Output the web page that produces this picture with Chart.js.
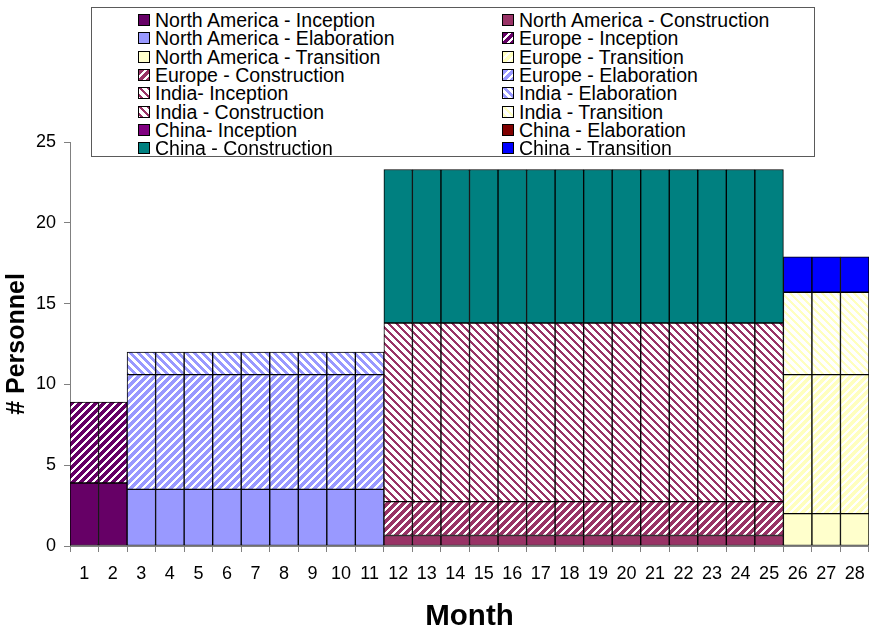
<!DOCTYPE html>
<html>
<head>
<meta charset="utf-8">
<script src="https://cdn.jsdelivr.net/npm/chart.js@4.4.1/dist/chart.umd.min.js"></script>
<style>
  html, body { margin: 0; padding: 0; background: #fff; }
  #wrap { position: relative; width: 869px; height: 632px; overflow: hidden; }
  #chart { position: absolute; left: 0; top: 0; }
  #legend {
    position: absolute; left: 91px; top: 7px; width: 724px; height: 150px;
    box-sizing: border-box; border: 1px solid #5a5a5a; background: #fff;
    font-family: "Liberation Sans", Arial, Helvetica, sans-serif; font-size: 19.5px; color: #000;
  }
  .item { position: absolute; height: 18px; line-height: 18px; white-space: nowrap; display: flex; align-items: center; }
  .sw { width: 10px; height: 10px; border: 1px solid #000; margin-right: 5px; display: block; }
</style>
</head>
<body>
<div id="wrap">
  <canvas id="chart" width="869" height="632"></canvas>
  <div id="legend"></div>
</div>
<script>
// Months on the x axis
const monthLabels = ['1','2','3','4','5','6','7','8','9','10','11','12','13','14',
  '15','16','17','18','19','20','21','22','23','24','25','26','27','28'];

// Project phase running in each month
const monthPhase = [
  'Inception','Inception',
  'Elaboration','Elaboration','Elaboration','Elaboration','Elaboration','Elaboration','Elaboration','Elaboration','Elaboration',
  'Construction','Construction','Construction','Construction','Construction','Construction','Construction',
  'Construction','Construction','Construction','Construction','Construction','Construction','Construction',
  'Transition','Transition','Transition'
];

// Staff per month at each site, by phase: Inception, Elaboration, Construction, Transition
const phases       = ['Inception', 'Elaboration', 'Construction', 'Transition'];
const northAmerica = [3.9, 3.5, 0.65, 2.0];
const europe       = [5.0, 7.1, 2.1, 8.6];
const india        = [null, 1.4, 11.05, 5.1];
const china        = [null, null, 9.5, 2.2];

const sites = { 'North America': northAmerica, 'Europe': europe, 'India': india, 'China': china };

// Series in stacking / legend order
const seriesList = [
  { label: 'North America - Inception',    site: 'North America', phase: 'Inception' },
  { label: 'North America - Construction', site: 'North America', phase: 'Construction' },
  { label: 'North America - Elaboration',  site: 'North America', phase: 'Elaboration' },
  { label: 'Europe - Inception',           site: 'Europe',        phase: 'Inception' },
  { label: 'North America - Transition',   site: 'North America', phase: 'Transition' },
  { label: 'Europe - Transition',          site: 'Europe',        phase: 'Transition' },
  { label: 'Europe - Construction',        site: 'Europe',        phase: 'Construction' },
  { label: 'Europe - Elaboration',         site: 'Europe',        phase: 'Elaboration' },
  { label: 'India- Inception',             site: 'India',         phase: 'Inception' },
  { label: 'India - Elaboration',          site: 'India',         phase: 'Elaboration' },
  { label: 'India - Construction',         site: 'India',         phase: 'Construction' },
  { label: 'India - Transition',           site: 'India',         phase: 'Transition' },
  { label: 'China- Inception',             site: 'China',         phase: 'Inception' },
  { label: 'China - Elaboration',          site: 'China',         phase: 'Elaboration' },
  { label: 'China - Construction',         site: 'China',         phase: 'Construction' },
  { label: 'China - Transition',           site: 'China',         phase: 'Transition' }
];

// Fill style per series: solid colour, or diagonal hatching ('up' = /, 'down' = \)
const fills = [
  { color: '#660066' },
  { color: '#993366' },
  { color: '#9999ff' },
  { color: '#660066', dir: 'up', band: 5 },
  { color: '#ffffcc' },
  { color: '#ffffbf', dir: 'up', band: 5 },
  { color: '#993366', dir: 'up', band: 5 },
  { color: '#9999ff', dir: 'up', band: 5 },
  { color: '#993366', dir: 'down', band: 3 },
  { color: '#9999ff', dir: 'down', band: 4 },
  { color: '#993366', dir: 'down', band: 3 },
  { color: '#ffffbf', dir: 'down', band: 3 },
  { color: '#800080' },
  { color: '#800000' },
  { color: '#008080' },
  { color: '#0000ff' }
];

function makeFill(ctx, f) {
  if (!f.dir) return f.color;
  const tile = document.createElement('canvas');
  tile.width = 8; tile.height = 8;
  const g = tile.getContext('2d');
  g.fillStyle = '#ffffff';
  g.fillRect(0, 0, 8, 8);
  g.fillStyle = f.color;
  for (let y = 0; y < 8; y++) {
    for (let x = 0; x < 8; x++) {
      const k = f.dir === 'up' ? (x + y) % 8 : (x - y + 8) % 8;
      if (k < f.band) g.fillRect(x, y, 1, 1);
    }
  }
  return ctx.createPattern(tile, 'repeat');
}

const canvas = document.getElementById('chart');
const ctx = canvas.getContext('2d');

const datasets = seriesList.map((s, i) => {
  const idx = phases.indexOf(s.phase);
  const v = sites[s.site][idx];
  return {
    label: s.label,
    data: monthPhase.map(p => (p === s.phase ? v : null)),
    backgroundColor: makeFill(ctx, fills[i]),
    borderColor: '#000000',
    borderWidth: 1,
    borderSkipped: false,
    barPercentage: 1.0,
    categoryPercentage: 1.0
  };
});

const FONT = '"Liberation Sans", Arial, Helvetica, sans-serif';

new Chart(ctx, {
  type: 'bar',
  data: { labels: monthLabels, datasets: datasets },
  options: {
    responsive: false,
    animation: false,
    events: [],
    layout: { padding: { top: 142, right: 0, bottom: 0, left: 0 } },
    plugins: { legend: { display: false }, tooltip: { enabled: false } },
    scales: {
      x: {
        stacked: true,
        grid: { drawOnChartArea: false, drawTicks: true, tickLength: 6, color: '#808080', offset: true },
        border: { display: true, color: '#808080', width: 1 },
        ticks: { color: '#000', font: { family: FONT, size: 18 }, padding: 11, maxRotation: 0, autoSkip: false },
        title: { display: true, text: 'Month', color: '#000', font: { family: FONT, size: 29.5, weight: 'bold', lineHeight: 1 }, padding: { top: 0, bottom: 0 } },
        afterFit: (scale) => { scale.height = 86; scale.paddingLeft = 0; scale.paddingRight = 0; }
      },
      y: {
        stacked: true,
        min: 0,
        max: 25,
        grid: { drawOnChartArea: false, drawTicks: true, tickLength: 6, color: '#808080' },
        border: { display: true, color: '#808080', width: 1 },
        ticks: { stepSize: 5, color: '#000', font: { family: FONT, size: 18 }, padding: 8 },
        title: { display: true, text: '# Personnel', color: '#000', font: { family: FONT, size: 25, weight: 'bold' }, padding: { top: 2, bottom: 0 } },
        afterFit: (scale) => { scale.width = 70; }
      }
    }
  }
});

// Two-column legend, filled row by row
const legend = document.getElementById('legend');
const rowTop0 = 3, rowStep = 18.3, colLeft = [46, 410];
seriesList.forEach((s, i) => {
  const row = Math.floor(i / 2), col = i % 2;
  const item = document.createElement('div');
  item.className = 'item';
  item.style.left = colLeft[col] + 'px';
  item.style.top = (rowTop0 + row * rowStep) + 'px';
  const sw = document.createElement('canvas');
  sw.className = 'sw';
  sw.width = 10; sw.height = 10;
  const sctx = sw.getContext('2d');
  sctx.fillStyle = makeFill(sctx, fills[i]);
  sctx.fillRect(0, 0, 10, 10);
  const txt = document.createElement('span');
  txt.textContent = s.label;
  item.appendChild(sw);
  item.appendChild(txt);
  legend.appendChild(item);
});
</script>
</body>
</html>
